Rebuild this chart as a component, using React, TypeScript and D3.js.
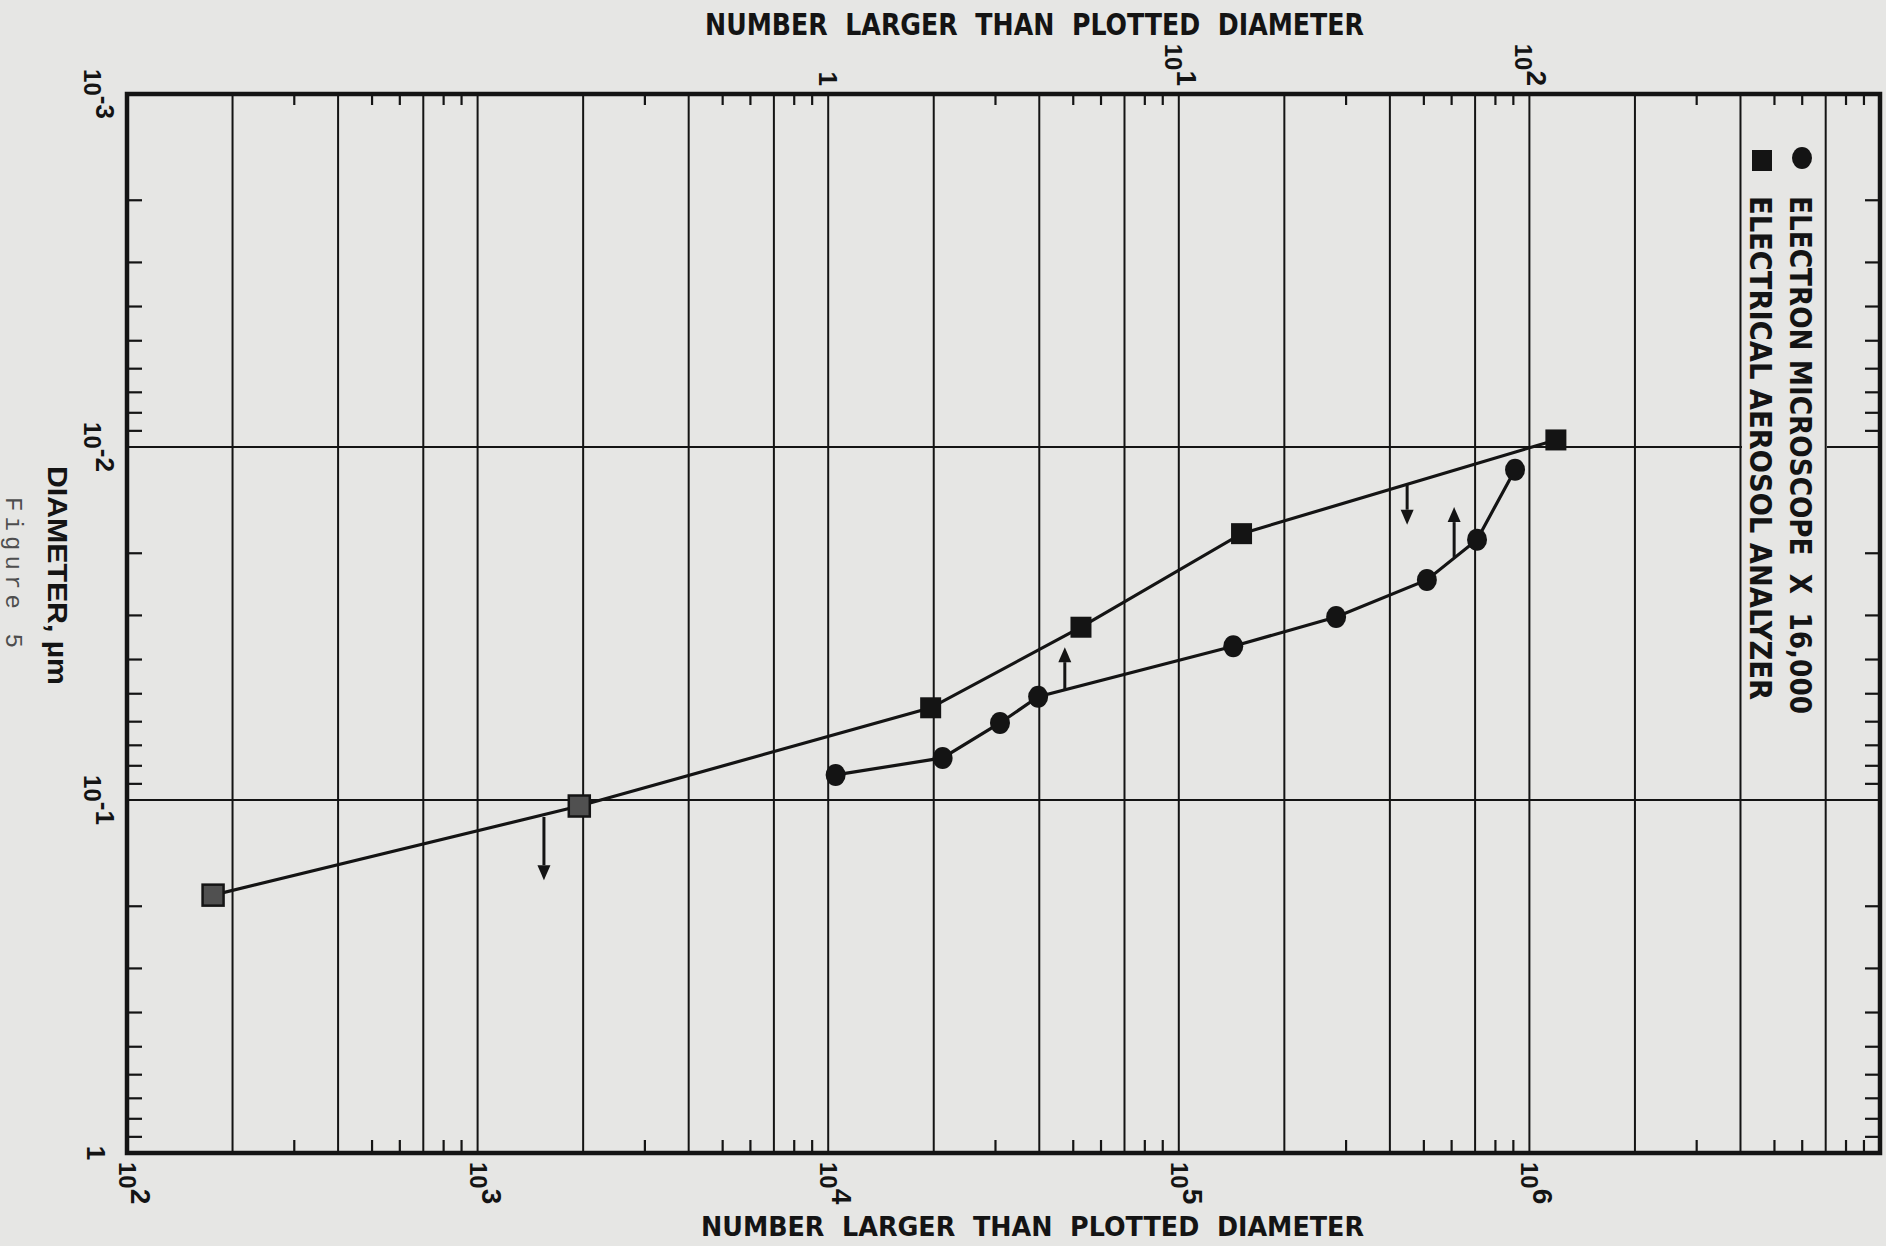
import React from 'react';
import * as d3 from 'd3';

const W = 1886;
const H = 1246;

// Electron microscope x 16,000 (circles): number larger than plotted diameter, diameter (µm)
const emN = [1.05e4, 2.12e4, 3.09e4, 3.97e4, 1.43e5, 2.81e5, 5.1e5, 7.09e5, 9.1e5];
const emD = [0.0849, 0.076, 0.0605, 0.051, 0.0367, 0.0303, 0.0238, 0.0183, 0.0116];

// Electrical aerosol analyzer (squares)
const eaaN = [176, 1950, 1.96e4, 5.26e4, 1.51e5, 1.19e6];
const eaaD = [0.186, 0.104, 0.0548, 0.0324, 0.0176, 0.00955];

// Arrows (position, start diameter, tip diameter)
const arrowN = [1546, 4.73e4, 4.48e5, 6.1e5];
const arrowFrom = [0.1117, 0.0488, 0.0128, 0.0205];
const arrowTo = [0.1687, 0.0369, 0.0166, 0.0148];

// Axes
const bottomExps = [2, 3, 4, 5, 6];
const topVals = [1, 10, 100];
const topLabelBase = ['1', '10', '10'];
const topLabelExp = ['', '1', '2'];
const leftExps = [-3, -2, -1, 0];
const leftLabelBase = ['10', '10', '10', '1'];
const leftLabelExp = ['-3', '-2', '-1', ''];
const xDecades = [2, 3, 4, 5, 6];
const xGridMantissas = [1, 2, 4, 7];
const xMinorMantissas = [3, 5, 6, 8, 9];
const yDecades = [-3, -2, -1];
const yMinorMantissas = [2, 3, 4, 5, 6, 7, 8, 9];
const yGridVals = [0.01, 0.1];

const legendLabels = ['ELECTRON MICROSCOPE  X  16,000', 'ELECTRICAL AEROSOL ANALYZER'];
const xTitle = 'NUMBER  LARGER  THAN  PLOTTED  DIAMETER';
const yTitle = 'DIAMETER, \u00b5m';
const caption = 'Figure 5';

const INK = '#141414';
const PAPER = '#e6e6e4';
const COND = '"Liberation Sans Narrow", "DejaVu Sans Condensed", "Liberation Sans", sans-serif';
const SANS = '"Liberation Sans", Arial, sans-serif';

const BASE_FS = 24;
const EXP_FS = 28;

export default function App() {
  const left = 127, right = 1880, top = 94, bottom = 1153;
  const x = d3.scaleLog().domain([1e2, 1e7]).range([left, right]);
  const xTop = d3.scaleLog().domain([1e-2, 1e3]).range([left, right]);
  const y = d3.scaleLog().domain([1e-3, 1]).range([top, bottom]);

  const xGrid: number[] = [];
  const xMinor: number[] = [];
  xDecades.forEach((e) => {
    xGridMantissas.forEach((m) => xGrid.push(m * Math.pow(10, e)));
    xMinorMantissas.forEach((m) => xMinor.push(m * Math.pow(10, e)));
  });
  const yMinor: number[] = [];
  yDecades.forEach((e) => yMinorMantissas.forEach((m) => yMinor.push(m * Math.pow(10, e))));

  const emLine = d3
    .line<number>()
    .x((d) => x(d))
    .y((_, i) => y(emD[i]));
  const eaaLine = d3
    .line<number>()
    .x((d) => x(d))
    .y((_, i) => y(eaaD[i]));

  const legendGapL = 1742, legendGapR = 1827;

  return (
    <div style={{ position: 'absolute', left: 0, top: 0 }}>
      <svg width={W} height={H} style={{ display: 'block' }}>
        <rect x={0} y={0} width={W} height={H} fill={PAPER} />

        {/* vertical grid lines */}
        {xGrid.filter((v) => v > 1e2).map((v, i) => (
          <line key={'vg' + i} x1={x(v)} x2={x(v)} y1={top} y2={bottom} stroke={INK} strokeWidth={2} />
        ))}
        {/* minor ticks top & bottom */}
        {xMinor.map((v, i) => (
          <g key={'xm' + i}>
            <line x1={x(v)} x2={x(v)} y1={top} y2={top + 11} stroke={INK} strokeWidth={2.2} />
            <line x1={x(v)} x2={x(v)} y1={bottom} y2={bottom - 13} stroke={INK} strokeWidth={2.2} />
          </g>
        ))}
        {/* y minor ticks left & right */}
        {yMinor.map((v, i) => (
          <g key={'ym' + i}>
            <line x1={left} x2={left + 15} y1={y(v)} y2={y(v)} stroke={INK} strokeWidth={2.2} />
            <line x1={right} x2={right - 15} y1={y(v)} y2={y(v)} stroke={INK} strokeWidth={2.2} />
          </g>
        ))}
        {/* horizontal grid lines */}
        {yGridVals.map((v, i) =>
          i === 0 ? (
            <g key={'hg' + i}>
              <line x1={left} x2={legendGapL} y1={y(v)} y2={y(v)} stroke={INK} strokeWidth={2} />
              <line x1={legendGapR} x2={right} y1={y(v)} y2={y(v)} stroke={INK} strokeWidth={2} />
            </g>
          ) : (
            <line key={'hg' + i} x1={left} x2={right} y1={y(v)} y2={y(v)} stroke={INK} strokeWidth={2} />
          )
        )}
        {/* frame */}
        <rect x={left} y={top} width={right - left} height={bottom - top} fill="none" stroke={INK} strokeWidth={4.5} />

        {/* series lines */}
        <path d={eaaLine(eaaN) || ''} fill="none" stroke={INK} strokeWidth={3.2} />
        <path d={emLine(emN) || ''} fill="none" stroke={INK} strokeWidth={3.2} />

        {/* arrows */}
        {arrowN.map((n, i) => {
          const ax = x(n);
          const y0 = y(arrowFrom[i]);
          const y1 = y(arrowTo[i]);
          const dir = y1 > y0 ? 1 : -1;
          const hl = 15, hw = 6.5;
          return (
            <g key={'ar' + i}>
              <line x1={ax} x2={ax} y1={y0} y2={y1 - dir * hl} stroke={INK} strokeWidth={3} />
              <path d={`M${ax - hw},${y1 - dir * hl} L${ax + hw},${y1 - dir * hl} L${ax},${y1} Z`} fill={INK} />
            </g>
          );
        })}

        {/* markers */}
        {eaaN.map((n, i) => (
          <rect
            key={'sq' + i}
            x={x(n) - 10.5}
            y={y(eaaD[i]) - 10.5}
            width={21}
            height={21}
            fill={i < 2 ? '#505050' : INK}
            stroke={INK}
            strokeWidth={i < 2 ? 2.5 : 0}
          />
        ))}
        {emN.map((n, i) => (
          <ellipse key={'ci' + i} cx={x(n)} cy={y(emD[i])} rx={10} ry={11} fill={INK} />
        ))}

        {/* bottom tick labels */}
        {bottomExps.map((e) => (
          <text
            key={'bl' + e}
            transform={`translate(${x(Math.pow(10, e)) - 8},${1162}) rotate(90)`}
            fontFamily={SANS}
            fontWeight="bold"
            fontSize={BASE_FS}
            fill={INK}
          >
            10
            <tspan dy={-12} fontSize={EXP_FS}>
              {String(e)}
            </tspan>
          </text>
        ))}

        {/* top tick labels */}
        {topVals.map((v, i) => (
          <text
            key={'tl' + i}
            transform={`translate(${xTop(v) - (i === 0 ? 9 : 14)},${86}) rotate(90)`}
            textAnchor="end"
            fontFamily={SANS}
            fontWeight="bold"
            fontSize={i === 0 ? 26 : BASE_FS}
            fill={INK}
          >
            {topLabelBase[i]}
            {topLabelExp[i] ? (
              <tspan dy={-12} fontSize={EXP_FS}>
                {topLabelExp[i]}
              </tspan>
            ) : null}
          </text>
        ))}

        {/* left tick labels */}
        {leftExps.map((e, i) => (
          <text
            key={'ll' + i}
            transform={`translate(${i === 3 ? 87 : 84},${y(Math.pow(10, e))}) rotate(90)`}
            textAnchor="middle"
            fontFamily={SANS}
            fontWeight="bold"
            fontSize={i === 3 ? 26 : BASE_FS}
            fill={INK}
          >
            {leftLabelBase[i]}
            {leftLabelExp[i] ? (
              <tspan dy={-12} fontSize={EXP_FS - 2}>
                {leftLabelExp[i]}
              </tspan>
            ) : null}
          </text>
        ))}

        {/* axis titles */}
        <text
          x={705}
          y={35}
          fontFamily={COND}
          fontWeight="bold"
          fontSize={30}
          fill={INK}
          textLength={659}
          lengthAdjust="spacingAndGlyphs"
          style={{ whiteSpace: 'pre' }}
        >
          {xTitle}
        </text>
        <text
          x={701}
          y={1236}
          fontFamily={COND}
          fontWeight="bold"
          fontSize={27}
          fill={INK}
          textLength={663}
          lengthAdjust="spacingAndGlyphs"
          style={{ whiteSpace: 'pre' }}
        >
          {xTitle}
        </text>
        <text
          transform={`translate(48,466) rotate(90)`}
          fontFamily={SANS}
          fontWeight="bold"
          fontSize={27}
          fill={INK}
          textLength={219}
          lengthAdjust="spacingAndGlyphs"
        >
          {yTitle}
        </text>
        <text
          transform={`translate(6,497) rotate(90)`}
          fontFamily={'"Liberation Mono", "DejaVu Sans Mono", monospace'}
          fontSize={24}
          fill="#4e4e4e"
          textLength={151}
          lengthAdjust="spacing"
          style={{ whiteSpace: 'pre' }}
        >
          {caption}
        </text>

        {/* legend */}
        <ellipse cx={1802} cy={158} rx={10} ry={11} fill={INK} />
        <rect x={1752} y={150} width={20} height={21} fill={INK} />
        {legendLabels.map((t, i) => (
          <text
            key={'lg' + i}
            transform={`translate(${i === 0 ? 1790 : 1750},196) rotate(90)`}
            fontFamily={COND}
            fontWeight="bold"
            fontSize={30}
            fill={INK}
            textLength={i === 0 ? 518 : 504}
            lengthAdjust="spacingAndGlyphs"
            style={{ whiteSpace: 'pre' }}
          >
            {t}
          </text>
        ))}
      </svg>
    </div>
  );
}
